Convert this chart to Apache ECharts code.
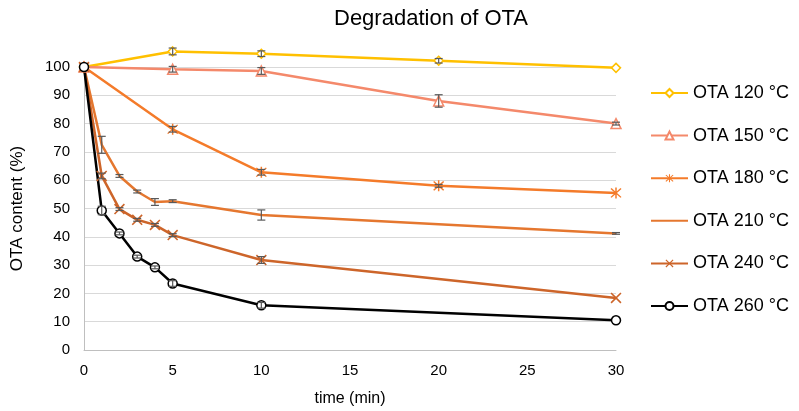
<!DOCTYPE html>
<html><head><meta charset="utf-8">
<script src="https://cdn.jsdelivr.net/npm/echarts@6/dist/echarts.min.js"></script>
<style>html,body{margin:0;padding:0;background:#fff}#c{width:799px;height:411px}</style>
</head><body><div id="c"></div>
<script>
const seriesNames = ['OTA 120 °C','OTA 150 °C','OTA 180 °C','OTA 210 °C','OTA 240 °C','OTA 260 °C'];
const times120 = [0,5,10,20,30];
const vals120  = [100,105.5,104.7,102.2,99.7];
const err120   = [0,1.2,1.0,0.8,0];
const times150 = [0,5,10,20,30];
const vals150  = [100,99.2,98.6,88,80];
const err150   = [0,1.0,1.2,2.2,0.5];
const times180 = [0,5,10,20,30];
const vals180  = [100,78,62.8,58,55.5];
const err180   = [0,1.0,1.0,0.5,0];
const times210 = [0,1,2,3,4,5,10,30];
const vals210  = [100,72.5,61.5,56,52.3,52.6,47.7,41.2];
const err210   = [0,3.0,0.5,0.5,1.2,0.5,1.8,0.3];
const times240 = [0,1,2,3,4,5,10,30];
const vals240  = [100,61.5,49.8,46,44.2,40.6,31.8,18.4];
const err240   = [0,1.0,0.5,0.5,0.5,0.5,1.2,0];
const times260 = [0,1,2,3,4,5,10,30];
const vals260  = [100,49.3,41.2,33,29.2,23.5,15.8,10.5];
const err260   = [0,1.5,0.5,0.5,0.5,1.0,1.0,0];
const xTicks = [0,5,10,15,20,25,30];
const yTicks = [0,10,20,30,40,50,60,70,80,90,100];

const colors = ['#FFC000','#F4896B','#F47B2A','#E5772F','#CD652A','#000000'];
const starPath = 'path://M4.4,0L5.6,0L5.6,10L4.4,10ZM0.6,1.4L1.4,0.6L9.4,8.6L8.6,9.4ZM1.4,9.4L0.6,8.6L8.6,0.6L9.4,1.4Z';
const xPath = 'path://M0.6,1.5L1.5,0.6L9.4,8.5L8.5,9.4ZM1.5,9.4L0.6,8.5L8.5,0.6L9.4,1.5Z';
const symbols = ['diamond','triangle',starPath,'circle',xPath,'circle'];
const sizes = [9,10,11,0,11,9];
const allT = [times120,times150,times180,times210,times240,times260];
const allV = [vals120,vals150,vals180,vals210,vals240,vals260];
const allE = [err120,err150,err180,err210,err240,err260];

const series = [];
allT.forEach((t,i)=>{
  const filled = (i===2||i===4);
  series.push({
    name: seriesNames[i], type:'line', clip:false,
    data: t.map((x,j)=>[x, allV[i][j]]),
    symbol: symbols[i], symbolSize: sizes[i], showSymbol: i!==3,
    color: colors[i],
    lineStyle:{width:2.5,color:colors[i]},
    itemStyle: i===3 ? {opacity:0, color:colors[i]} :
      {color: filled ? colors[i] : '#fff', borderColor: colors[i], borderWidth: filled?0:1.5},
    z: 3
  });
});
const errData = [];
allT.forEach((t,i)=>{ t.forEach((x,j)=>{ if(allE[i][j]>0) errData.push([x, allV[i][j]-allE[i][j], allV[i][j]+allE[i][j]]); }); });
series.push({
  type:'custom', clip:false, z:4, silent:true,
  data: errData,
  renderItem: function(params, api){
    const lo = api.coord([api.value(0), api.value(1)]);
    const hi = api.coord([api.value(0), api.value(2)]);
    const w = 4;
    const st = {stroke:'#595959', lineWidth:1.2};
    return {type:'group', children:[
      {type:'line', shape:{x1:lo[0],y1:lo[1],x2:hi[0],y2:hi[1]}, style:st},
      {type:'line', shape:{x1:lo[0]-w,y1:lo[1],x2:lo[0]+w,y2:lo[1]}, style:st},
      {type:'line', shape:{x1:hi[0]-w,y1:hi[1],x2:hi[0]+w,y2:hi[1]}, style:st}
    ]};
  }
});

const chart = echarts.init(document.getElementById('c'), null, {renderer:'canvas'});
chart.setOption({
  animation:false,
  title:{text:'Degradation of OTA', left:329, top:3,
    textStyle:{fontFamily:'Liberation Sans, Arial', fontSize:22, fontWeight:'normal', color:'#000'}},
  grid:{left:84, right:183, top:67, bottom:61, containLabel:false, outerBoundsMode:'none'},
  legend:{
    orient:'vertical', left:645, top:79, itemWidth:37, itemHeight:10, itemGap:24.6,
    data: seriesNames,
    textStyle:{fontFamily:'Liberation Sans, Arial', fontSize:18, color:'#000'}
  },
  xAxis:{type:'value', min:0, max:30, interval:5,
    name:'time (min)', nameLocation:'middle', nameGap:41,
    nameTextStyle:{fontFamily:'Liberation Sans, Arial', fontSize:16, color:'#000'},
    axisLine:{lineStyle:{color:'#BFBFBF',width:1}},
    axisTick:{show:false},
    axisLabel:{fontFamily:'Liberation Sans, Arial', fontSize:15, color:'#000', margin:13,
      formatter: v => xTicks.includes(v) ? String(v) : ''},
    splitLine:{show:false}},
  yAxis:{type:'value', min:0, max:100, interval:10,
    name:'OTA content (%)', nameLocation:'middle', nameGap:58,
    nameTextStyle:{fontFamily:'Liberation Sans, Arial', fontSize:17, color:'#000'},
    axisLine:{show:true, lineStyle:{color:'#BFBFBF',width:1}},
    axisTick:{show:false},
    axisLabel:{fontFamily:'Liberation Sans, Arial', fontSize:15, color:'#000', margin:14,
      formatter: v => yTicks.includes(v) ? String(v) : ''},
    splitLine:{lineStyle:{color:'#D9D9D9',width:1}}},
  series: series
});
</script></body></html>
